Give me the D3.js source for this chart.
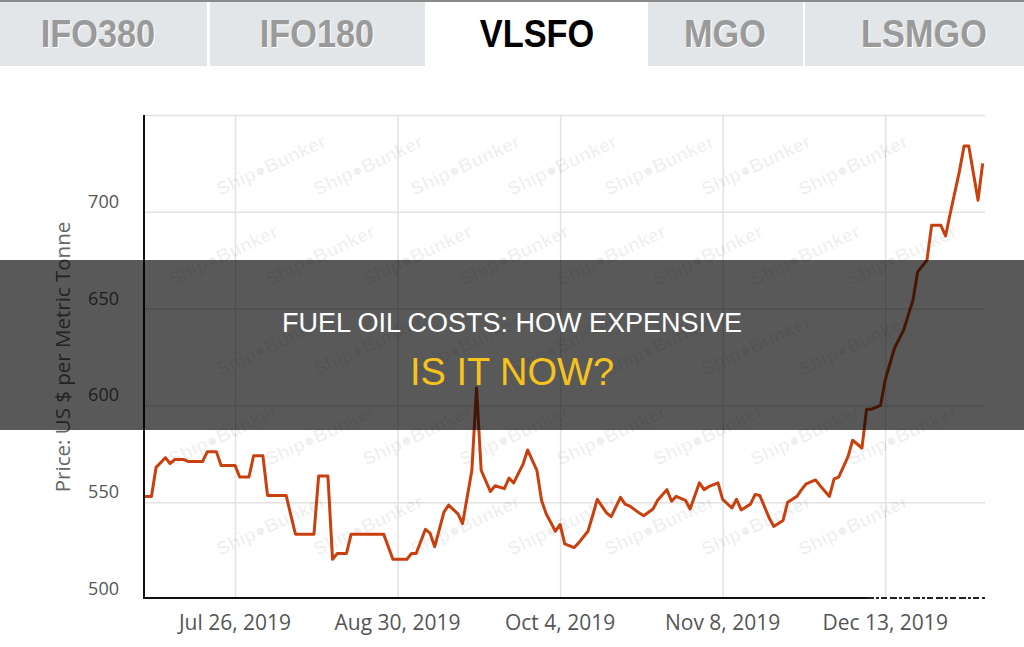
<!DOCTYPE html>
<html>
<head>
<meta charset="utf-8">
<script src="https://cdn.jsdelivr.net/npm/d3@7"></script>
<style>
  body { margin: 0; background: #fff; }
  svg { display: block; }
</style>
</head>
<body>
<svg id="chart" width="1024" height="647"></svg>
<script>
// fuel grade tabs, VLSFO is the selected one
const tabNames = ['IFO380', 'IFO180', 'VLSFO', 'MGO', 'LSMGO'];
const activeTab = 'VLSFO';

// VLSFO price, US $ per metric tonne
const priceDates = [
  '2019-07-06', '2019-07-08', '2019-07-09', '2019-07-11', '2019-07-12', '2019-07-13', '2019-07-15', '2019-07-16',
  '2019-07-19', '2019-07-20', '2019-07-22', '2019-07-23', '2019-07-26', '2019-07-27', '2019-07-29', '2019-07-30',
  '2019-08-01', '2019-08-02', '2019-08-06', '2019-08-08', '2019-08-12', '2019-08-13', '2019-08-15', '2019-08-16',
  '2019-08-17', '2019-08-19', '2019-08-20', '2019-08-27', '2019-08-29', '2019-09-01', '2019-09-02', '2019-09-03',
  '2019-09-05', '2019-09-06', '2019-09-07', '2019-09-09', '2019-09-10', '2019-09-12', '2019-09-13', '2019-09-15',
  '2019-09-16', '2019-09-17', '2019-09-19', '2019-09-20', '2019-09-22', '2019-09-23', '2019-09-24', '2019-09-26',
  '2019-09-27', '2019-09-29', '2019-09-30', '2019-10-01', '2019-10-03', '2019-10-04', '2019-10-05', '2019-10-07',
  '2019-10-08', '2019-10-10', '2019-10-11', '2019-10-12', '2019-10-14', '2019-10-15', '2019-10-17', '2019-10-18',
  '2019-10-19', '2019-10-21', '2019-10-22', '2019-10-24', '2019-10-25', '2019-10-27', '2019-10-28', '2019-10-29',
  '2019-10-31', '2019-11-01', '2019-11-03', '2019-11-04', '2019-11-05', '2019-11-07', '2019-11-08', '2019-11-10',
  '2019-11-11', '2019-11-12', '2019-11-14', '2019-11-15', '2019-11-16', '2019-11-18', '2019-11-19', '2019-11-21',
  '2019-11-22', '2019-11-24', '2019-11-25', '2019-11-26', '2019-11-28', '2019-11-29', '2019-12-01', '2019-12-02',
  '2019-12-03', '2019-12-05', '2019-12-06', '2019-12-08', '2019-12-09', '2019-12-10', '2019-12-12', '2019-12-13',
  '2019-12-15', '2019-12-17', '2019-12-19', '2019-12-20', '2019-12-22', '2019-12-23', '2019-12-25', '2019-12-26',
  '2019-12-27', '2019-12-29', '2019-12-30', '2019-12-31', '2020-01-02', '2020-01-03'
];
const priceValues = [
  553, 553, 568, 573, 570, 572, 572, 571,
  571, 576, 576, 569, 569, 563, 563, 574,
  574, 553.5, 553.5, 533.5, 533.5, 563.5, 563.5, 520.5,
  523.5, 523.5, 533.5, 533.5, 520.5, 520.5, 523.5, 523.5,
  536, 534, 527, 545, 548.5, 544, 539, 566.5,
  609, 566.5, 555.5, 558.5, 557, 562.5, 560, 569.5,
  577, 566.5, 551, 544, 535, 538.5, 528.5, 526.5,
  529, 535, 543, 551.5, 544.5, 542.5, 552.5, 549,
  548, 544.5, 543, 546.5, 551, 556.5, 550.5, 553,
  551, 546.5, 560, 556.5, 558, 560, 551.5, 547,
  551.5, 546, 549, 554, 553.5, 542, 537.5, 540.5,
  550, 553, 556.5, 559.5, 561.5, 558.5, 553, 562,
  563, 573.5, 582, 578, 598, 598, 600, 613,
  629.5, 639, 654.5, 669, 675, 693, 693, 687.5,
  699, 721, 734, 734, 706, 725
];

const xTickDates = ['2019-07-26', '2019-08-30', '2019-10-04', '2019-11-08', '2019-12-13'];
const yTickValues = [500, 550, 600, 650, 700];
const xDomain = ['2019-07-06T09:30', '2020-01-03T12:00'];
const yDomain = [500, 750];

const titleLine1 = 'FUEL OIL COSTS: HOW EXPENSIVE';
const titleLine2 = 'IS IT NOW?';
const yTitle = 'Price: US $ per Metric Tonne';

const W = 1024, H = 647;
const plot = {left: 144, right: 985, top: 115, bottom: 599};

const svg = d3.select('#chart');
const parse = d3.isoParse;

// ---- tabs across the top
const tabBounds = [[0, 207], [210, 425], [427, 646], [648, 803], [805, 1024]];
const tabTextX = [98, 317, 537, 725, 924];
const tabs = svg.append('g');
tabs.selectAll('rect')
  .data(tabNames)
  .enter().append('rect')
  .attr('x', (d, i) => tabBounds[i][0])
  .attr('y', 0)
  .attr('width', (d, i) => tabBounds[i][1] - tabBounds[i][0])
  .attr('height', 66)
  .attr('fill', (d) => d === activeTab ? '#ffffff' : '#e3e6e8');
tabs.append('rect').attr('x', 0).attr('y', 0).attr('width', W).attr('height', 2).attr('fill', '#8a8a8a');

// labels drawn twice: a white copy offset below gives the embossed look
[['shadow', 1, 1], ['label', 0, 0]].forEach(([cls, dx, dy]) => {
  tabs.selectAll('text.' + cls)
    .data(tabNames)
    .enter().append('text')
    .attr('class', cls)
    .attr('transform', (d, i) => 'translate(' + (tabTextX[i] + dx) + ',' + (47 + dy) + ') scale(0.88,1)')
    .attr('text-anchor', 'middle')
    .attr('font-family', 'Liberation Sans, Arial, sans-serif')
    .attr('font-weight', 'bold')
    .attr('font-size', 39)
    .attr('fill', (d) => cls === 'shadow' ? (d === activeTab ? 'none' : '#ffffff') : (d === activeTab ? '#000000' : '#9a9a9a'))
    .text((d) => d);
});

// ---- scales
let x = d3.scaleTime()
  .domain(xDomain.map(parse))
  .range([plot.left, plot.right]);

let y = d3.scaleLinear()
  .domain(yDomain)
  .range([plot.bottom, plot.top]);

svg.append('defs').append('clipPath')
  .attr('id', 'plotClip')
  .append('rect')
  .attr('x', plot.left).attr('y', plot.top)
  .attr('width', plot.right - plot.left).attr('height', plot.bottom - plot.top);

// ---- grid
svg.append('g')
  .attr('transform', 'translate(' + plot.left + ',0)')
  .call(d3.axisLeft(y).tickValues(yTickValues.slice(1).concat([750])).tickSize(-(plot.right - plot.left)).tickFormat(''))
  .call((g) => g.select('.domain').remove())
  .call((g) => g.selectAll('line').attr('stroke', '#e2e2e2').attr('stroke-width', 1.5));

svg.append('g')
  .attr('transform', 'translate(0,' + plot.bottom + ')')
  .call(d3.axisBottom(x).tickValues(xTickDates.map(parse)).tickSize(-(plot.bottom - plot.top)).tickFormat(''))
  .call((g) => g.select('.domain').remove())
  .call((g) => g.selectAll('line').attr('stroke', '#e2e2e2').attr('stroke-width', 1.5));

// ---- watermark (only whole copies inside the plot)
const marks = svg.append('g');
for (let row = 0; row < 7; row++) {
  for (let col = 0; col < 11; col++) {
    let cx = plot.left + 30 + col * 97 - (row % 2) * 48;
    let cy = plot.top + 50 + row * 90;
    if (cx < plot.left + 52 || cx > plot.right - 52 || cy < plot.top + 28 || cy > plot.bottom - 28) continue;
    marks.append('text')
      .attr('transform', 'translate(' + cx + ',' + cy + ') rotate(-25)')
      .attr('text-anchor', 'middle')
      .attr('dy', '0.35em')
      .attr('font-family', 'Liberation Sans, Arial, sans-serif')
      .attr('font-weight', 'bold')
      .attr('font-size', 19)
      .attr('fill', '#000')
      .attr('fill-opacity', 0.06)
      .text('Ship\u25CFBunker');
  }
}

// ---- price line
const series = priceDates.map((d, i) => ({date: parse(d), value: priceValues[i]}));
svg.append('path')
  .datum(series)
  .attr('clip-path', 'url(#plotClip)')
  .attr('fill', 'none')
  .attr('stroke', '#c9400f')
  .attr('stroke-width', 3)
  .attr('stroke-linejoin', 'round')
  .attr('d', d3.line().x((d) => x(d.date)).y((d) => y(d.value)));

// ---- axis lines
svg.append('line')
  .attr('x1', plot.left).attr('x2', plot.left)
  .attr('y1', plot.top).attr('y2', plot.bottom)
  .attr('stroke', '#111').attr('stroke-width', 2);
svg.append('line')
  .attr('x1', plot.left).attr('x2', 867)
  .attr('y1', plot.bottom - 1).attr('y2', plot.bottom - 1)
  .attr('stroke', '#111').attr('stroke-width', 2);
svg.append('line')
  .attr('x1', 867).attr('x2', plot.right)
  .attr('y1', plot.bottom - 1).attr('y2', plot.bottom - 1)
  .attr('stroke', '#222').attr('stroke-width', 2)
  .attr('stroke-dasharray', '7,2,3,2,6,3');

// ---- tick labels
svg.append('g')
  .selectAll('text')
  .data(yTickValues)
  .enter().append('text')
  .attr('x', 119)
  .attr('y', (d) => y(d) - 4)
  .attr('text-anchor', 'end')
  .attr('font-family', 'Open Sans, sans-serif')
  .attr('font-size', 18)
  .attr('fill', '#555')
  .text((d) => d);

const fmt = d3.timeFormat('%b %-d, %Y');
svg.append('g')
  .selectAll('text')
  .data(xTickDates)
  .enter().append('text')
  .attr('x', (d) => x(parse(d)))
  .attr('y', 630)
  .attr('text-anchor', 'middle')
  .attr('font-family', 'Open Sans, sans-serif')
  .attr('font-size', 21)
  .attr('fill', '#555')
  .text((d) => fmt(parse(d)));

svg.append('text')
  .attr('transform', 'translate(70,357) rotate(-90)')
  .attr('text-anchor', 'middle')
  .attr('font-family', 'Open Sans, sans-serif')
  .attr('font-size', 20.5)
  .attr('fill', '#666')
  .text(yTitle);

// ---- dark caption band over the chart
svg.append('rect')
  .attr('x', 0).attr('y', 260)
  .attr('width', W).attr('height', 170)
  .attr('fill', '#000').attr('fill-opacity', 0.65);

svg.append('text')
  .attr('x', W / 2).attr('y', 332)
  .attr('text-anchor', 'middle')
  .attr('font-family', 'Liberation Sans, Arial, sans-serif')
  .attr('font-size', 27)
  .attr('fill', '#ffffff')
  .text(titleLine1);

svg.append('text')
  .attr('x', W / 2).attr('y', 385)
  .attr('text-anchor', 'middle')
  .attr('font-family', 'Liberation Sans, Arial, sans-serif')
  .attr('font-size', 38)
  .attr('fill', '#f6c31c')
  .text(titleLine2);
</script>
</body>
</html>
